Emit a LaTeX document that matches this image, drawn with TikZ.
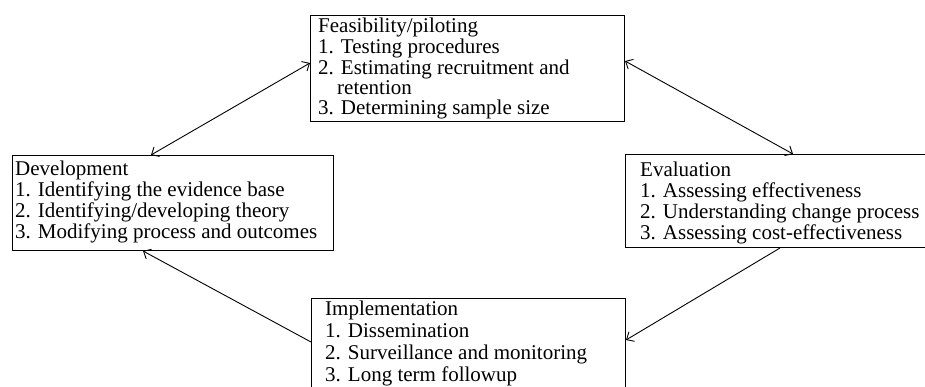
\documentclass[tikz,border=0pt]{standalone}
\usepackage{fontspec}
\setmainfont{Liberation Serif}
\usetikzlibrary{arrows.meta}
\begin{document}
\begin{tikzpicture}[x=1pt,y=-1pt,
  box/.style={draw, line width=1pt, anchor=north west, inner sep=0pt},
  txt/.style={anchor=base west, inner sep=0pt, font=\fontsize{21}{20}\selectfont},
  tip/.style={Straight Barb[length=6pt,width=11pt]},
  link/.style={line width=0.9pt, -{Straight Barb[length=6pt,width=11pt]}},
  dlink/.style={line width=0.9pt, {Straight Barb[length=6pt,width=11pt]}-{Straight Barb[length=6pt,width=11pt]}}]
\useasboundingbox (0,0) rectangle (925,387);
\clip (0,0) rectangle (925,387);
% boxes
\node[box, minimum width=314pt, minimum height=106pt] (feas) at (310,15) {};
\node[box, minimum width=321pt, minimum height=95pt] (dev) at (12,155) {};
\node[box, minimum width=320pt, minimum height=93pt] (eval) at (625,154) {};
\node[box, minimum width=314pt, minimum height=110pt] (impl) at (311,298) {};
% texts
\node[txt] (feastext) at (318,33) {\begin{tabular}[t]{@{}l@{}}Feasibility/piloting\\1. Testing procedures\\2. Estimating recruitment and\\\hspace*{19pt}retention\\3. Determining sample size\end{tabular}};
\node[txt] (devtext) at (15,176) {\begin{tabular}[t]{@{}l@{}}Development\\1. Identifying the evidence base\\2. Identifying/developing theory\\3. Modifying process and outcomes\end{tabular}};
\node[txt] (evaltext) at (640,177) {\begin{tabular}[t]{@{}l@{}}Evaluation\\1. Assessing effectiveness\\2. Understanding change process\\3. Assessing cost-effectiveness\end{tabular}};
\node[txt, font=\fontsize{21}{22}\selectfont] (impltext) at (325,315) {\begin{tabular}[t]{@{}l@{}}Implementation\\1. Dissemination\\2. Surveillance and monitoring\\3. Long term followup\end{tabular}};
% connectors
\draw[dlink] ([xshift=139pt]dev.north west) -- ([yshift=-48pt]feas.north west);
\draw[dlink] ([yshift=-46pt]feas.north east) -- ([xshift=168pt]eval.north west);
\draw[link] ([xshift=155pt]eval.south west) -- ([yshift=-42pt]impl.north east);
\draw[link] ([yshift=-44pt]impl.north west) -- ([xshift=131pt]dev.south west);
\end{tikzpicture}
\end{document}
